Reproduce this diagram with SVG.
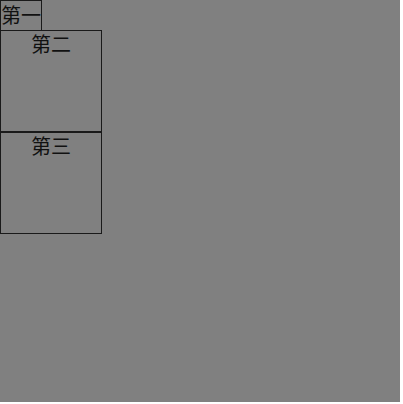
<svg xmlns="http://www.w3.org/2000/svg" width="403" height="404" viewBox="0 0 403 404">
<style>
.box{fill:none;stroke:#1a1a1a;stroke-width:1}
.t{font-family:"Noto Sans CJK SC","Liberation Sans",sans-serif;font-size:20px;fill:#111}
</style>
<rect x="0" y="0" width="403" height="404" fill="#ffffff"/>
<rect x="0" y="0" width="400" height="402" fill="#808080"/>
<g id="n1">
<rect class="box" x="0.5" y="0.5" width="41" height="30"/>
<text class="t" x="1" y="23">第一</text>
</g>
<g id="n2">
<rect class="box" x="0.5" y="30.5" width="101" height="101"/>
<text class="t" x="51" y="52" text-anchor="middle">第二</text>
</g>
<g id="n3">
<rect class="box" x="0.5" y="132.5" width="101" height="101"/>
<text class="t" x="51" y="154" text-anchor="middle">第三</text>
</g>
<g id="connectors"></g>
</svg>
